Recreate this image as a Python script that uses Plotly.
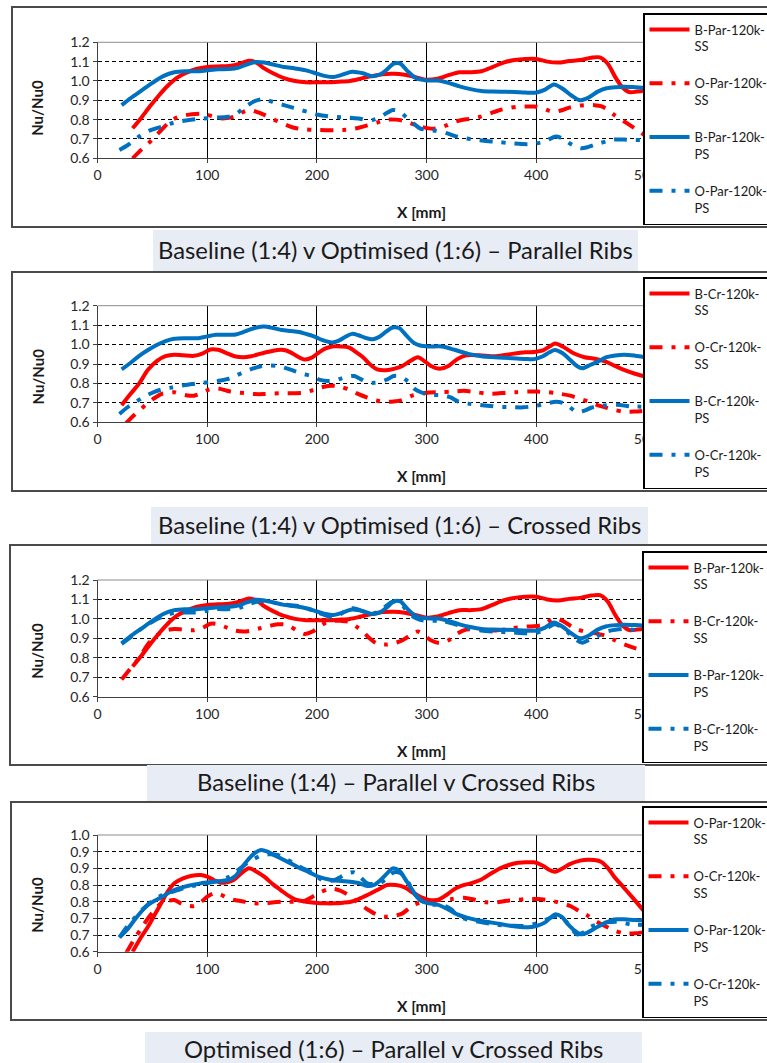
import plotly.graph_objects as go

W, H = 767, 1063
FONT = "Lato"

# ---------------- measured series: X [mm] and Nu/Nu0 ----------------
# Baseline (1:4), parallel ribs
x_b_par_ss = [32, 40, 48, 56, 64, 72, 80, 90, 100, 110, 120, 130, 138, 145, 152, 160, 170, 180, 190, 200,
              210, 220, 230, 240, 250, 260, 270, 280, 290, 300, 310, 320, 330, 340, 350, 360, 370, 380, 390,
              400, 410, 420, 430, 440, 450, 458, 465, 472, 478, 485, 492, 500]
y_b_par_ss = [0.755, 0.81, 0.87, 0.925, 0.975, 1.015, 1.04, 1.062, 1.072, 1.075, 1.078, 1.09, 1.105, 1.095,
              1.065, 1.04, 1.015, 1.0, 0.993, 0.993, 0.993, 0.996, 1.0, 1.012, 1.025, 1.035, 1.037, 1.032,
              1.02, 1.006, 1.012, 1.03, 1.045, 1.045, 1.05, 1.072, 1.095, 1.108, 1.114, 1.114, 1.1, 1.095,
              1.103, 1.108, 1.12, 1.122, 1.09, 1.02, 0.97, 0.942, 0.945, 0.95]

x_b_par_ps = [22, 30, 40, 50, 60, 70, 80, 90, 100, 110, 120, 128, 136, 145, 152, 160, 170, 180, 190, 200,
              208, 215, 222, 232, 242, 250, 258, 264, 270, 276, 282, 290, 300, 310, 320, 330, 340, 350, 360,
              370, 380, 390, 400, 408, 416, 424, 432, 440, 448, 456, 464, 472, 480, 490, 500]
y_b_par_ps = [0.875, 0.91, 0.95, 0.99, 1.025, 1.045, 1.05, 1.05, 1.055, 1.06, 1.062, 1.068, 1.085, 1.098,
              1.095, 1.085, 1.072, 1.065, 1.055, 1.038, 1.025, 1.02, 1.03, 1.048, 1.04, 1.025, 1.035, 1.06,
              1.09, 1.09, 1.055, 1.015, 1.003, 1.002, 0.99, 0.972, 0.958, 0.948, 0.945, 0.944, 0.943, 0.94,
              0.94, 0.955, 0.982, 0.96, 0.925, 0.9, 0.915, 0.945, 0.962, 0.968, 0.97, 0.968, 0.965]

# Optimised (1:6), parallel ribs
x_o_par_ss = [32, 40, 46, 52, 58, 64, 70, 78, 86, 94, 100, 106, 112, 118, 124, 131, 138, 145, 152, 160,
              167, 174, 180, 190, 198, 208, 216, 224, 231, 238, 246, 255, 264, 272, 280, 288, 296, 306, 312,
              318, 325, 331, 340, 349, 358, 367, 375, 382, 390, 398, 406, 412, 417, 424, 430, 440, 447, 453,
              459, 465, 471, 479, 487, 493, 500]
y_o_par_ss = [0.6, 0.645, 0.675, 0.71, 0.745, 0.78, 0.805, 0.82, 0.828, 0.83, 0.825, 0.815, 0.807, 0.808,
              0.815, 0.835, 0.85, 0.84, 0.825, 0.802, 0.785, 0.768, 0.757, 0.75, 0.747, 0.745, 0.745, 0.747,
              0.75, 0.758, 0.77, 0.785, 0.8, 0.8, 0.793, 0.776, 0.762, 0.753, 0.758, 0.77, 0.787, 0.797,
              0.805, 0.815, 0.833, 0.85, 0.86, 0.866, 0.868, 0.868, 0.858, 0.845, 0.84, 0.85, 0.862, 0.873,
              0.876, 0.875, 0.87, 0.852, 0.825, 0.795, 0.765, 0.742, 0.715]

x_o_par_ps = [20, 28, 36, 46, 58, 70, 82, 94, 106, 119, 126, 131, 137, 143, 149, 155, 162, 170, 178, 185,
              193, 201, 213, 222, 230, 238, 246, 252, 258, 264, 269, 275, 282, 288, 294, 302, 309, 318, 328,
              336, 343, 354, 364, 376, 392, 400, 408, 417, 423, 429, 435, 441, 447, 456, 464, 471, 480, 490,
              500]
y_o_par_ps = [0.643, 0.67, 0.705, 0.74, 0.763, 0.785, 0.797, 0.805, 0.81, 0.815, 0.828, 0.85, 0.875, 0.895,
              0.905, 0.9, 0.888, 0.875, 0.862, 0.85, 0.838, 0.825, 0.815, 0.812, 0.81, 0.806, 0.797, 0.8,
              0.815, 0.835, 0.85, 0.843, 0.81, 0.78, 0.755, 0.745, 0.742, 0.73, 0.712, 0.703, 0.697, 0.69,
              0.685, 0.678, 0.673, 0.677, 0.688, 0.712, 0.705, 0.682, 0.663, 0.652, 0.658, 0.675, 0.688,
              0.697, 0.697, 0.695, 0.694]

# Baseline (1:4), crossed ribs
x_b_cr_ss = [22, 30, 38, 46, 54, 62, 70, 78, 88, 96, 103, 110, 118, 125, 133, 140, 148, 156, 164, 170, 176,
             182, 189, 196, 202, 208, 214, 222, 229, 236, 242, 248, 255, 263, 271, 278, 285, 292, 298, 304,
             312, 320, 328, 336, 348, 363, 378, 390, 398, 406, 412, 417, 424, 434, 444, 452, 462, 471, 480,
             490, 500]
y_b_cr_ss = [0.688, 0.745, 0.8, 0.87, 0.915, 0.94, 0.948, 0.945, 0.942, 0.955, 0.975, 0.973, 0.955, 0.94,
             0.935, 0.94, 0.952, 0.963, 0.972, 0.972, 0.96, 0.94, 0.923, 0.935, 0.96, 0.98, 0.99, 0.99, 0.985,
             0.96, 0.935, 0.9, 0.872, 0.868, 0.876, 0.89, 0.915, 0.935, 0.915, 0.89, 0.876, 0.89, 0.925,
             0.945, 0.945, 0.94, 0.952, 0.96, 0.962, 0.97, 0.99, 1.005, 0.99, 0.955, 0.935, 0.928, 0.915,
             0.892, 0.87, 0.85, 0.835]

x_b_cr_ps = [22, 30, 38, 46, 54, 62, 70, 80, 92, 100, 108, 118, 126, 132, 138, 145, 152, 160, 168, 176, 184,
             190, 196, 202, 208, 214, 220, 226, 232, 238, 244, 251, 257, 263, 269, 275, 281, 288, 294, 302,
             314, 326, 338, 350, 362, 378, 390, 398, 406, 412, 417, 424, 431, 437, 442, 449, 456, 464, 472,
             480, 490, 500]
y_b_cr_ps = [0.872, 0.905, 0.942, 0.972, 0.998, 1.018, 1.03, 1.033, 1.033, 1.042, 1.05, 1.05, 1.052, 1.062,
             1.075, 1.088, 1.093, 1.085, 1.075, 1.07, 1.065, 1.055, 1.045, 1.03, 1.018, 1.01, 1.02, 1.04,
             1.055, 1.048, 1.035, 1.027, 1.04, 1.066, 1.088, 1.085, 1.05, 1.01, 0.995, 0.99, 0.99, 0.972,
             0.952, 0.94, 0.935, 0.93, 0.926, 0.925, 0.94, 0.96, 0.972, 0.955, 0.92, 0.89, 0.878, 0.895,
             0.912, 0.935, 0.944, 0.948, 0.943, 0.935]

# Optimised (1:6), crossed ribs
x_o_cr_ss = [26, 33, 40, 46, 52, 58, 64, 70, 76, 82, 88, 94, 100, 106, 112, 118, 125, 134, 143, 152, 161,
             170, 179, 188, 196, 203, 210, 216, 222, 231, 238, 246, 254, 262, 270, 278, 288, 300, 312, 323,
             334, 345, 355, 364, 373, 382, 392, 401, 410, 420, 431, 440, 447, 455, 462, 470, 480, 490, 500]
y_o_cr_ss = [0.595, 0.635, 0.67, 0.7, 0.725, 0.745, 0.752, 0.755, 0.745, 0.738, 0.737, 0.748, 0.765, 0.775,
             0.772, 0.762, 0.755, 0.75, 0.745, 0.745, 0.748, 0.75, 0.75, 0.752, 0.765, 0.778, 0.787, 0.788,
             0.782, 0.765, 0.745, 0.727, 0.712, 0.705, 0.707, 0.715, 0.74, 0.752, 0.755, 0.758, 0.762, 0.755,
             0.748, 0.748, 0.753, 0.755, 0.758, 0.758, 0.755, 0.748, 0.737, 0.72, 0.708, 0.69, 0.678, 0.665,
             0.655, 0.655, 0.66]

x_o_cr_ps = [20, 28, 35, 42, 50, 58, 66, 76, 86, 94, 104, 112, 120, 127, 134, 142, 149, 156, 164, 171, 179,
             187, 195, 203, 210, 216, 222, 228, 234, 240, 246, 252, 258, 264, 270, 276, 283, 289, 296, 302,
             314, 322, 329, 338, 348, 358, 366, 378, 388, 400, 410, 418, 424, 430, 437, 444, 450, 456, 464,
             474, 486, 500]
y_o_cr_ps = [0.643, 0.68, 0.705, 0.73, 0.752, 0.768, 0.777, 0.788, 0.797, 0.802, 0.808, 0.815, 0.825, 0.842,
             0.86, 0.877, 0.888, 0.892, 0.89, 0.88, 0.865, 0.85, 0.838, 0.818, 0.812, 0.815, 0.825, 0.835,
             0.838, 0.822, 0.805, 0.803, 0.807, 0.82, 0.838, 0.836, 0.81, 0.772, 0.752, 0.742, 0.74, 0.728,
             0.706, 0.696, 0.69, 0.684, 0.68, 0.678, 0.677, 0.685, 0.698, 0.706, 0.7, 0.68, 0.652, 0.66,
             0.675, 0.682, 0.688, 0.69, 0.682, 0.68]

# ---------------- axis ticks ----------------
x_ticks = [0, 100, 200, 300, 400, 500, 600]
y_ticks_wide = [0.6, 0.7, 0.8, 0.9, 1.0, 1.1, 1.2]
y_labels_wide = ["0.6", "0.7", "0.8", "0.9", "1.0", "1.1", "1.2"]
y_ticks_narrow = [0.6, 0.65, 0.7, 0.75, 0.8, 0.85, 0.9, 0.95]
y_labels_narrow = ["0.6", "0.7", "0.7", "0.8", "0.8", "0.9", "0.9", "1.0"]

captions = [
    "Baseline (1:4) v Optimised (1:6) – Parallel Ribs",
    "Baseline (1:4) v Optimised (1:6) – Crossed Ribs",
    "Baseline (1:4) – Parallel v Crossed Ribs",
    "Optimised (1:6) – Parallel v Crossed Ribs",
]

RED = "#FF0000"
BLUE = "#0070C0"
DASHDOT = "13px,9px,4px,9px"

# series shown in each panel: (name, x, y, colour, dash)
panel_series = [
    [("B-Par-120k-<br>SS", x_b_par_ss, y_b_par_ss, RED, "solid"),
     ("O-Par-120k-<br>SS", x_o_par_ss, y_o_par_ss, RED, DASHDOT),
     ("B-Par-120k-<br>PS", x_b_par_ps, y_b_par_ps, BLUE, "solid"),
     ("O-Par-120k-<br>PS", x_o_par_ps, y_o_par_ps, BLUE, DASHDOT)],
    [("B-Cr-120k-<br>SS", x_b_cr_ss, y_b_cr_ss, RED, "solid"),
     ("O-Cr-120k-<br>SS", x_o_cr_ss, y_o_cr_ss, RED, DASHDOT),
     ("B-Cr-120k-<br>PS", x_b_cr_ps, y_b_cr_ps, BLUE, "solid"),
     ("O-Cr-120k-<br>PS", x_o_cr_ps, y_o_cr_ps, BLUE, DASHDOT)],
    [("B-Par-120k-<br>SS", x_b_par_ss, y_b_par_ss, RED, "solid"),
     ("B-Cr-120k-<br>SS", x_b_cr_ss, y_b_cr_ss, RED, DASHDOT),
     ("B-Par-120k-<br>PS", x_b_par_ps, y_b_par_ps, BLUE, "solid"),
     ("B-Cr-120k-<br>PS", x_b_cr_ps, y_b_cr_ps, BLUE, DASHDOT)],
    [("O-Par-120k-<br>SS", x_o_par_ss, y_o_par_ss, RED, "solid"),
     ("O-Cr-120k-<br>SS", x_o_cr_ss, y_o_cr_ss, RED, DASHDOT),
     ("O-Par-120k-<br>PS", x_o_par_ps, y_o_par_ps, BLUE, "solid"),
     ("O-Cr-120k-<br>PS", x_o_cr_ps, y_o_cr_ps, BLUE, DASHDOT)],
]

# page geometry in pixels (top-left origin)
panels = [
    dict(plot_top=42.3, plot_bot=158.3, box=(12, 7, 227), leg=(643, 13), cap=(153, 638, 230, 268), ylab=8),
    dict(plot_top=305.7, plot_bot=422.3, box=(12, 272, 491), leg=(643, 277), cap=(151, 648, 507, 540), ylab=13),
    dict(plot_top=580.0, plot_bot=696.7, box=(10, 545, 765), leg=(642, 551), cap=(147, 645, 765, 797), ylab=13),
    dict(plot_top=835.0, plot_bot=951.7, box=(11, 802, 1020), leg=(642, 806), cap=(145, 642, 1032, 1063), ylab=12),
]
X0, X1 = 97.5, 755.7


def fx(p):
    return p / W


def fy(p):
    return 1 - p / H


fig = go.Figure()
shapes, annotations = [], []
layout = {}

for i, (pan, series) in enumerate(zip(panels, panel_series)):
    n = i + 1
    xa = "x" if n == 1 else f"x{n}"
    ya = "y" if n == 1 else f"y{n}"
    leg_id = "legend" if n == 1 else f"legend{n}"

    for k, (name, xs, ys, col, dash) in enumerate(series):
        fig.add_trace(go.Scatter(
            x=xs, y=ys, name=name, mode="lines",
            line=dict(color=col, width=4, dash=dash, shape="spline", smoothing=0.8),
            xaxis=xa, yaxis=ya, legend=leg_id, legendgroup=f"p{n}s{k}",
            hoverinfo="skip",
        ))

    narrow = (n == 4)
    layout["xaxis" if n == 1 else f"xaxis{n}"] = dict(
        domain=[fx(X0), fx(X1)], range=[0, 600], anchor=ya,
        tickvals=x_ticks, showgrid=True, gridcolor="#000000", gridwidth=1,
        showline=True, linecolor="#404040", linewidth=1, zeroline=False,
        ticks="outside", ticklen=4, tickcolor="#404040",
        tickfont=dict(family=FONT, size=14, color="#262626"),
    )
    layout["yaxis" if n == 1 else f"yaxis{n}"] = dict(
        domain=[fy(pan["plot_bot"]), fy(pan["plot_top"])],
        range=[0.6, 0.95] if narrow else [0.6, 1.2], anchor=xa,
        tickvals=y_ticks_narrow if narrow else y_ticks_wide,
        ticktext=y_labels_narrow if narrow else y_labels_wide,
        showgrid=True, gridcolor="#000000", gridwidth=1, griddash="4px,3px",
        showline=True, linecolor="#404040", linewidth=1, zeroline=False,
        ticks="outside", ticklen=4, tickcolor="#404040",
        tickfont=dict(family=FONT, size=14, color="#262626"),
    )
    layout[leg_id] = dict(
        x=fx(pan["leg"][0]), y=fy(pan["leg"][1]), xanchor="left", yanchor="top",
        bgcolor="white", bordercolor="#000000", borderwidth=1.5,
        font=dict(family=FONT, size=13, color="#1a1a1a"),
        traceorder="grouped", tracegroupgap=17, valign="top", itemwidth=40,
    )

    # plot-area top edge
    shapes.append(dict(type="line", xref=f"{xa} domain", yref=f"{ya} domain",
                       x0=0, x1=1, y0=1, y1=1, line=dict(color="#8c8c8c", width=1), layer="above"))
    # chart frame
    bx, btop, bbot = pan["box"]
    shapes.append(dict(type="rect", xref="paper", yref="paper",
                       x0=fx(bx), x1=fx(W + 20), y0=fy(bbot), y1=fy(btop),
                       line=dict(color="#4a4a4a", width=2), fillcolor="rgba(0,0,0,0)", layer="below"))
    # caption band
    cl, cr, ct, cb = pan["cap"]
    shapes.append(dict(type="rect", xref="paper", yref="paper",
                       x0=fx(cl), x1=fx(cr), y0=fy(cb + 5), y1=fy(ct),
                       line=dict(width=0), fillcolor="#E8ECF4", layer="below"))
    annotations.append(dict(text=captions[i], xref="paper", yref="paper",
                            x=fx((cl + cr) / 2), y=fy((ct + cb) / 2 + 1), xanchor="center", yanchor="middle",
                            showarrow=False, font=dict(family=FONT, size=23.8, color="#1a1a1a")))
    # axis titles
    annotations.append(dict(text="<b>Nu/Nu0</b>", xref="paper", yref="paper",
                            x=fx(37.5), y=fy((pan["plot_top"] + pan["plot_bot"]) / 2 + pan["ylab"]),
                            xanchor="center", yanchor="middle", textangle=-90, showarrow=False,
                            font=dict(family=FONT, size=15, color="#1a1a1a")))
    annotations.append(dict(text="<b>X [mm]</b>", xref="paper", yref="paper",
                            x=fx(421), y=fy(pan["plot_bot"] + 54), xanchor="center", yanchor="middle",
                            showarrow=False, font=dict(family=FONT, size=15.5, color="#1a1a1a")))

fig.update_layout(
    width=W, height=H,
    margin=dict(l=0, r=0, t=0, b=0, autoexpand=False),
    paper_bgcolor="white", plot_bgcolor="white",
    showlegend=True, shapes=shapes, annotations=annotations,
    **layout,
)

fig.write_html("out.html")
